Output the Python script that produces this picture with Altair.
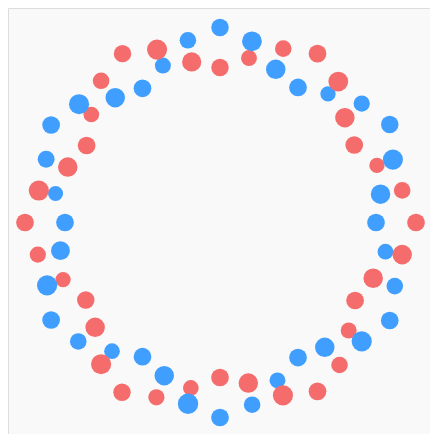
import altair as alt
import pandas as pd

# angle in degrees, clockwise from top
angles = [0, 10, 20, 30, 40, 50, 60, 70, 80, 90, 100, 110, 120, 130, 140, 150, 160, 170,
          180, 190, 200, 210, 220, 230, 240, 250, 260, 270, 280, 290, 300, 310, 320, 330, 340, 350]

blue_r = [19.5, 18.4, 16.3, 15.6, 16.8, 18.5, 19.6, 18.4, 16.3, 15.6, 16.8, 18.6,
          19.6, 18.5, 16.3, 15.6, 16.8, 18.5, 19.5, 18.4, 16.3, 15.5, 16.8, 18.5,
          19.5, 18.4, 16.2, 15.5, 16.7, 18.5, 19.5, 18.4, 16.3, 15.5, 16.7, 18.5]
blue_size = [19.7, 22.3, 22.0, 20.0, 17.3, 18.3, 19.7, 22.7, 22.0, 20.0, 17.7, 18.7,
             20.0, 22.7, 22.0, 20.0, 18.0, 18.7, 20.0, 23.0, 22.0, 20.0, 17.7, 18.7,
             20.0, 22.7, 21.3, 20.0, 17.0, 19.0, 20.0, 22.7, 22.0, 20.0, 18.0, 18.7]

red_r = [15.5, 16.7, 18.5, 19.5, 18.4, 16.3, 15.5, 16.7, 18.5, 19.6, 18.5, 16.3,
         15.6, 16.8, 18.6, 19.5, 18.4, 16.3, 15.5, 16.8, 18.6, 19.6, 18.5, 16.3,
         15.5, 16.7, 18.5, 19.5, 18.4, 16.2, 15.4, 16.8, 18.5, 19.5, 18.4, 16.3]
red_size = [19.7, 18.0, 18.7, 20.0, 22.3, 22.0, 20.0, 17.3, 18.7, 20.0, 22.0, 22.0,
            20.0, 18.0, 18.7, 20.0, 22.7, 22.0, 20.0, 17.7, 18.3, 19.7, 22.7, 22.0,
            19.7, 17.3, 18.3, 20.0, 22.7, 22.0, 20.0, 17.7, 18.7, 19.7, 22.7, 21.7]

source = pd.concat([
    pd.DataFrame({"angle": angles, "r": blue_r, "size": blue_size, "series": "blue"}),
    pd.DataFrame({"angle": angles, "r": red_r, "size": red_size, "series": "red"}),
])

chart = (
    alt.Chart(source)
    .transform_calculate(
        x="datum.r * sin(datum.angle * PI / 180)",
        y="datum.r * cos(datum.angle * PI / 180)",
    )
    .mark_circle(opacity=1)
    .encode(
        alt.X("x:Q", scale=alt.Scale(domain=[-21.2, 21.0], nice=False, zero=False), axis=None),
        alt.Y("y:Q", scale=alt.Scale(domain=[-21.15, 21.45], nice=False, zero=False), axis=None),
        alt.Size("size:Q", scale=alt.Scale(type="pow", exponent=2, domain=[0, 25], range=[0, 490.9]),
                 legend=None),
        alt.Color("series:N", scale=alt.Scale(domain=["blue", "red"], range=["#409EFF", "#F56C6C"]),
                  legend=None),
        alt.Order("size:Q"),
    )
    .properties(width=422, height=426, autosize=alt.AutoSizeParams(type="none"), padding=0)
    .configure_view(stroke=None)
    .configure(background="#f9f9f9")
)

chart.save("out.html", embed_options={"renderer": "svg", "actions": False})
